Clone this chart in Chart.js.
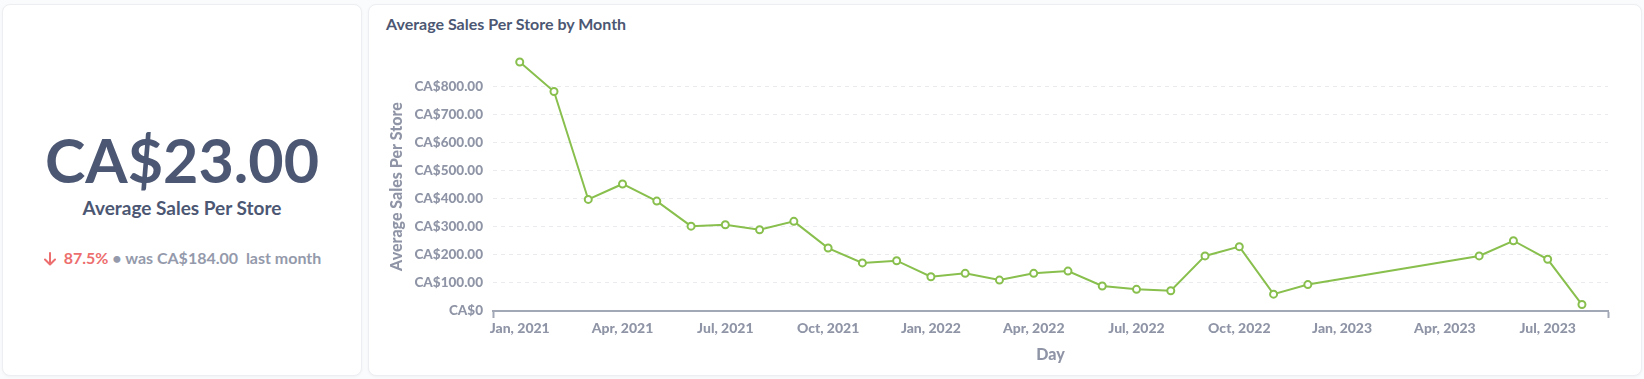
<!DOCTYPE html>
<html><head><meta charset="utf-8">
<script src="https://cdn.jsdelivr.net/npm/chart.js@4.4.1/dist/chart.umd.min.js"></script>
<style>
html,body{margin:0;padding:0;background:#f9fbfc;width:1644px;height:379px;overflow:hidden;font-family:Lato,"Noto Sans",sans-serif;}
.card{position:absolute;background:#fff;border:1px solid #eceef2;border-radius:8px;box-shadow:0 1px 3px rgba(0,0,0,0.04);box-sizing:border-box;}
#left{left:2px;top:4px;width:360px;height:372px;}
#right{left:368px;top:4px;width:1274px;height:372px;}
.t{position:absolute;white-space:nowrap;}
#big{left:0;width:358px;text-align:center;top:124px;font-size:61px;line-height:61px;font-weight:700;color:#4c5773;}
#sub{left:0;width:358px;text-align:center;top:193px;font-size:19px;line-height:19px;font-weight:700;color:#4c5773;}
#cmp{left:0;width:358px;text-align:center;top:245px;font-size:16px;line-height:16px;font-weight:700;color:#949aab;}
#cmp .red{color:#ed6e6e;}
#title{left:17px;top:11px;font-size:16px;line-height:16px;font-weight:700;color:#4c5773;}
#cv{position:absolute;left:368px;top:40px;}
</style>
</head><body>
<div class="card" id="left">
  <div class="t" id="big">CA$23.00</div>
  <div class="t" id="sub">Average Sales Per Store</div>
  <div class="t" id="cmp"><span class="red"><svg width="14" height="14" viewBox="0 0 14 14" style="vertical-align:-2px;margin-right:7px"><path d="M7 1 V12 M2 7.5 L7 12.5 L12 7.5" stroke="#ed6e6e" stroke-width="2" fill="none" stroke-linecap="round" stroke-linejoin="round"/></svg>87.5%</span> • was CA$184.00&nbsp; last month</div>
</div>
<div class="card" id="right">
  <div class="t" id="title">Average Sales Per Store by Month</div>
</div>
<canvas id="cv" width="1274" height="336"></canvas>
<script>
// Month keys (YYYY-MM) of each data point
const monthKeys = ['2021-01','2021-02','2021-03','2021-04','2021-05','2021-06','2021-07','2021-08','2021-09','2021-10','2021-11','2021-12',
  '2022-01','2022-02','2022-03','2022-04','2022-05','2022-06','2022-07','2022-08','2022-09','2022-10','2022-11','2022-12',
  '2023-05','2023-06','2023-07','2023-08'];
// Average sales per store (CA$)
const avgSales = [886,781,397,452,391,302,307,289,319,224,171,179,
  122,134,110,134,142,89,77,72,196,229,60,94,
  196,250,184,23];
// X tick months and labels
const xTickMonths = ['2021-01','2021-04','2021-07','2021-10','2022-01','2022-04','2022-07','2022-10','2023-01','2023-04','2023-07'];
const xTickLabels = ['Jan, 2021','Apr, 2021','Jul, 2021','Oct, 2021','Jan, 2022','Apr, 2022','Jul, 2022','Oct, 2022','Jan, 2023','Apr, 2023','Jul, 2023'];
// Y tick values
const yTickValues = [0,100,200,300,400,500,600,700,800];

const monthIndex = k => { const [y,m] = k.split('-').map(Number); return (y-2021)*12 + (m-1); };
const points = monthKeys.map((k,i) => ({x: monthIndex(k), y: avgSales[i]}));
const xTickPos = xTickMonths.map(monthIndex);
const firstM = monthIndex(monthKeys[0]), lastM = monthIndex(monthKeys[monthKeys.length-1]);
const xMin = firstM - 0.78, xMax = lastM + 0.76;
const fmtMoney = v => v === 0 ? 'CA$0' : 'CA$' + v.toFixed(2);

const gray = '#8f95a6';
new Chart(document.getElementById('cv'), {
  type: 'line',
  data: { datasets: [{
    data: points,
    borderColor: '#88bf4d', borderWidth: 2, tension: 0,
    pointRadius: 3.5, pointBorderWidth: 2, pointBackgroundColor: '#fff', pointBorderColor: '#88bf4d',
    pointHoverRadius: 3.5, clip: false
  }]},
  options: {
    responsive: false, animation: false, events: [],
    layout: { padding: { top: 22, right: 34, left: 0, bottom: 0 } },
    plugins: { legend: { display: false }, tooltip: { enabled: false } },
    scales: {
      x: {
        type: 'linear', min: xMin, max: xMax,
        afterFit: s => { s.height = 65; },
        afterBuildTicks: s => { s.ticks = [{value: xMin}].concat(xTickPos.map(v => ({value: v}))).concat([{value: xMax}]); },
        ticks: {
          autoSkip: false, maxRotation: 0, padding: 2, color: gray,
          font: { family: 'Lato', size: 14, weight: '900' },
          callback: v => { const i = xTickPos.indexOf(v); return i >= 0 ? xTickLabels[i] : ''; }
        },
        grid: { drawOnChartArea: false, drawTicks: true, tickLength: 7, tickWidth: 2,
          tickColor: c => (c.tick && (c.tick.value === xMin || c.tick.value === xMax)) ? '#a3a8b6' : 'rgba(0,0,0,0)' },
        border: { display: true, color: '#a3a8b6', width: 2 },
        title: { display: true, text: 'Day', color: gray, font: { family: 'Lato', size: 16, weight: '900' }, padding: { top: 0, bottom: 12 } }
      },
      y: {
        min: 0, max: Math.max(...avgSales),
        afterFit: s => { s.width = 125; },
        afterBuildTicks: s => { s.ticks = yTickValues.map(v => ({value: v})); },
        ticks: { padding: 10, color: gray, font: { family: 'Lato', size: 13.5, weight: '900' }, callback: v => fmtMoney(v) },
        grid: { drawTicks: false, color: c => c.tick && c.tick.value === 0 ? 'rgba(0,0,0,0)' : '#e9ebef', lineWidth: 1 },
        border: { display: false, dash: [4,4] },
        title: { display: true, text: 'Average Sales Per Store', color: gray, font: { family: 'Lato', size: 16, weight: '900' }, padding: { top: 19, bottom: 0 } }
      }
    }
  }
});
</script>
</body></html>
